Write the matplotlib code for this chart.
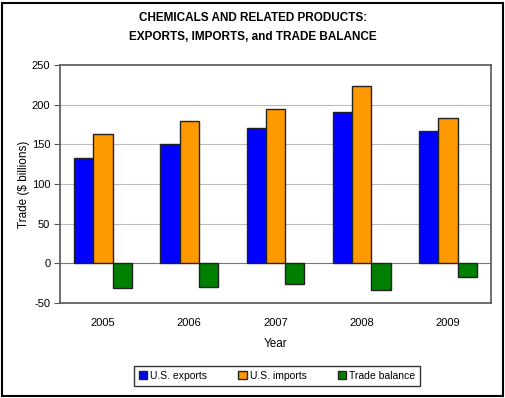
import matplotlib
matplotlib.use("Agg")
import matplotlib.pyplot as plt
import numpy as np
from matplotlib.patches import Rectangle

years = ["2005", "2006", "2007", "2008", "2009"]
exports = [133, 150, 170, 191, 167]
imports = [163, 180, 195, 224, 183]
balance = [-31, -30, -26, -34, -17]
series_names = ["U.S. exports", "U.S. imports", "Trade balance"]
colors = ["#0000FF", "#FF9900", "#008000"]
yticks = [-50, 0, 50, 100, 150, 200, 250]

plt.rcParams['font.family'] = ['Liberation Sans', 'DejaVu Sans']

fig = plt.figure(figsize=(5.06, 3.98), dpi=100)
ax = fig.add_axes([60/506, 1-303/398, (491-60)/506, (303-65)/398])

x = np.arange(len(years))
w = 0.224
for i, (vals, name, c) in enumerate(zip([exports, imports, balance], series_names, colors)):
    ax.bar(x + (i - 1) * w, vals, width=w, color=c, edgecolor="#222222",
           linewidth=1.0, label=name, zorder=3)

ax.set_xlim(-0.5, len(years) - 0.5)
ax.set_ylim(-50, 250)
ax.set_yticks(yticks)
ax.set_yticklabels([str(t) for t in yticks], fontsize=8)
ax.set_xticks(x)
ax.set_xticklabels(years, fontsize=8)
ax.tick_params(axis='x', length=0, pad=11)
ax.tick_params(axis='y', length=4, width=0.8, color="#555555", pad=3)
for t in [50, 100, 150, 200]:
    ax.axhline(t, color="#BBBBBB", linewidth=0.8, zorder=1)
ax.axhline(0, color="#777777", linewidth=0.8, zorder=1)
for s in ax.spines.values():
    s.set_color("#555555")
    s.set_linewidth(1.2)

ax.set_ylabel("Trade ($ billions)", fontsize=8.5, labelpad=1)
ax.set_xlabel("Year", fontsize=8.5, labelpad=7)

fig.text(0.5, 1 - 18/398, "CHEMICALS AND RELATED PRODUCTS:", ha="center", va="center",
         fontsize=8.5, fontweight="bold")
fig.text(0.5, 1 - 37/398, "EXPORTS, IMPORTS, and TRADE BALANCE", ha="center", va="center",
         fontsize=8.5, fontweight="bold")

leg = fig.legend(loc="center", bbox_to_anchor=(277/506, 1 - 376/398), ncol=3,
                 fontsize=7.5, frameon=True, fancybox=False, edgecolor="black",
                 handlelength=0.8, handleheight=0.8, handletextpad=0.3,
                 columnspacing=3.0, borderpad=0.45)
leg.get_frame().set_linewidth(1.0)

fig.patches.append(Rectangle((2/506, 2/398), 1 - 5/506, 1 - 5/398, transform=fig.transFigure,
                             fill=False, edgecolor="black", linewidth=1.5))

fig.savefig("out.png", dpi=100)
